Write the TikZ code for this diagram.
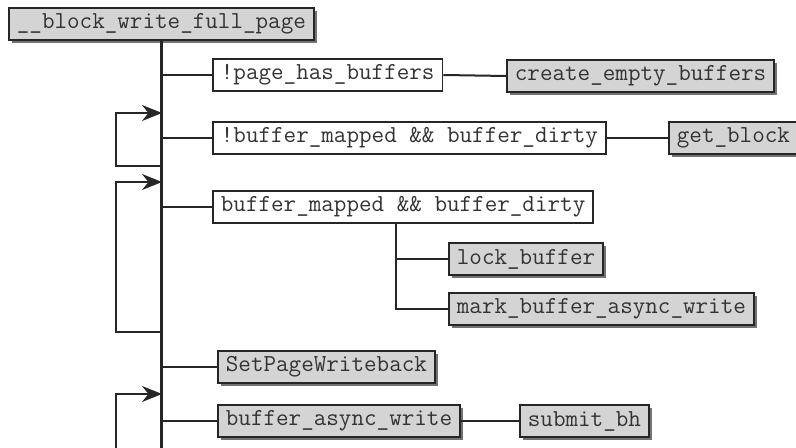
\documentclass[tikz,border=0pt]{standalone}
\usepackage{fontspec}
\usetikzlibrary{arrows.meta,shadows}

\begin{document}
\begin{tikzpicture}[x=0.5pt,y=-0.5pt,
  cond/.style={draw=black!85,line width=0.9pt,fill=white,anchor=west,
    font=\ttfamily\fontsize{12.2}{14}\selectfont,text=black!80,
    minimum height=16pt,inner xsep=4pt,inner ysep=0pt},
  fn/.style={cond,fill=black!17,
    drop shadow={shadow xshift=1.6pt,shadow yshift=-1.6pt,fill=black!55,opacity=1}},
  link/.style={line width=1pt,draw=black!85},
  spine/.style={line width=1.5pt,draw=black!85},
  loop/.style={link,-{Stealth[length=10pt,width=8pt]}}]
\useasboundingbox (0,0) rectangle (796,448);
\node[fn] (root) at (8,24) {\_\_block\_write\_full\_page};
\node[cond] (nobufs) at (212,75) {!page\_has\_buffers};
\node[fn] (mkbufs) at (506,76) {create\_empty\_buffers};
\node[cond] (unmapped) at (212,138) {!buffer\_mapped \&\& buffer\_dirty};
\node[fn] (getblk) at (668,138) {get\_block};
\node[cond] (mapped) at (212,207) {buffer\_mapped \&\& buffer\_dirty};
\node[fn] (lockbuf) at (448,259) {lock\_buffer};
\node[fn] (markbuf) at (448,309) {mark\_buffer\_async\_write};
\node[fn] (setwb) at (217,367) {SetPageWriteback};
\node[fn] (asyncwr) at (217,421) {buffer\_async\_write};
\node[fn] (submit) at (519,421) {submit\_bh};
\coordinate (bottom) at (162,448);
\coordinate (sub) at (396,0);
\coordinate (ret1) at (162,113);
\coordinate (from1) at (162,166);
\coordinate (ret2) at (162,182);
\coordinate (from2) at (162,332);
\coordinate (ret3) at (162,394);
\coordinate (lp) at (116,0);
\draw[spine] (root.south) -- (root.south |- bottom);
\draw[link] (root.south |- nobufs.west) -- (nobufs.west);
\draw[link] (nobufs.east) -- (mkbufs.west);
\draw[link] (root.south |- unmapped.west) -- (unmapped.west);
\draw[link] (unmapped.east) -- (getblk.west);
\draw[link] (root.south |- mapped.west) -- (mapped.west);
\draw[link] (sub |- mapped.south) -- (sub |- markbuf.west) -- (markbuf.west);
\draw[link] (sub |- lockbuf.west) -- (lockbuf.west);
\draw[link] (root.south |- setwb.west) -- (setwb.west);
\draw[link] (root.south |- asyncwr.west) -- (asyncwr.west);
\draw[link] (asyncwr.east) -- (submit.west);
\draw[loop] (from1) -- (lp |- from1) -- (lp |- ret1) -- (ret1);
\draw[loop] (from2) -- (lp |- from2) -- (lp |- ret2) -- (ret2);
\draw[loop] (lp |- bottom) -- (lp |- ret3) -- (ret3);
\end{tikzpicture}
\end{document}
